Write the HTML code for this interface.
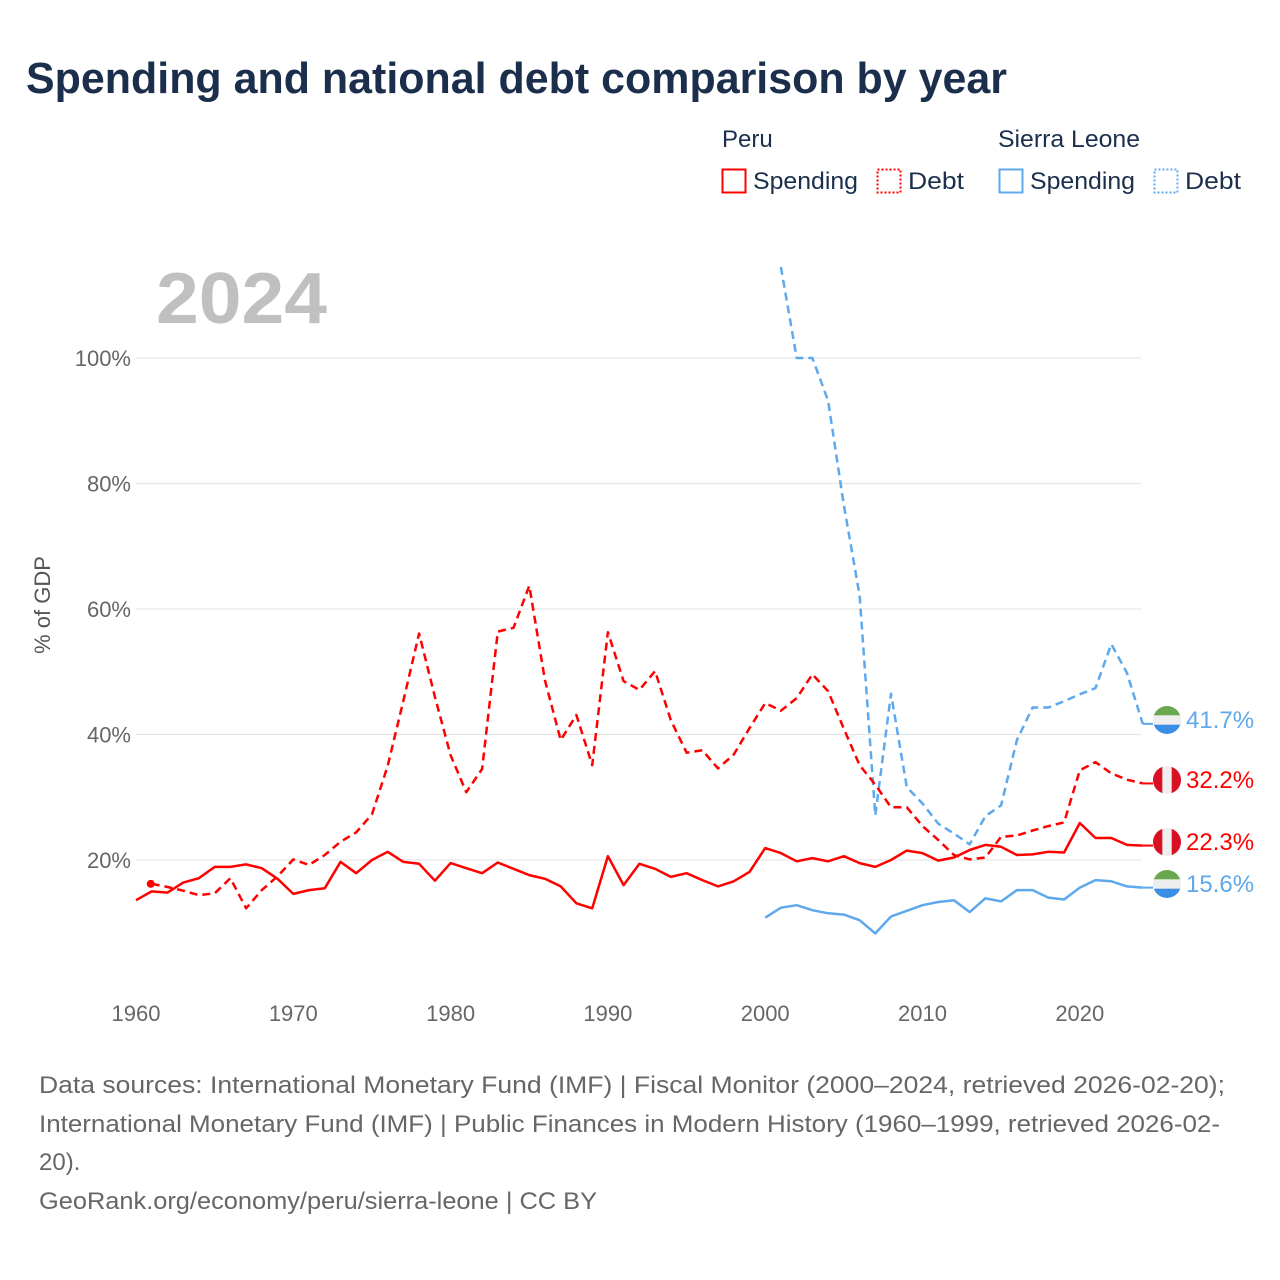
<!DOCTYPE html>
<html><head><meta charset="utf-8">
<style>
body{margin:0;background:#fff;}
svg{display:block;font-family:"Liberation Sans",sans-serif;}
</style></head>
<body>
<svg id="chart" width="1280" height="1280" viewBox="0 0 1280 1280">
<text x="26" y="93" font-size="44" font-weight="bold" fill="#1b2f4d" textLength="981" lengthAdjust="spacingAndGlyphs">Spending and national debt comparison by year</text>
<g>
<text x="722" y="147" font-size="24" fill="#1b2f4d">Peru</text>
<text x="998" y="147" font-size="24" fill="#1b2f4d" textLength="142" lengthAdjust="spacingAndGlyphs">Sierra Leone</text>
<g><rect x="722.5" y="169.5" width="23" height="23" fill="none" stroke="#f00" stroke-width="2"/><text x="753" y="189" font-size="24" fill="#1b2f4d" textLength="105" lengthAdjust="spacingAndGlyphs">Spending</text></g>
<g><rect x="877.5" y="169.5" width="23" height="23" fill="none" stroke="#f00" stroke-width="2" stroke-dasharray="2 2"/><text x="908" y="189" font-size="24" fill="#1b2f4d" textLength="56" lengthAdjust="spacingAndGlyphs">Debt</text></g>
<g><rect x="999.5" y="169.5" width="23" height="23" fill="none" stroke="#5ea8ec" stroke-width="2"/><text x="1030" y="189" font-size="24" fill="#1b2f4d" textLength="105" lengthAdjust="spacingAndGlyphs">Spending</text></g>
<g><rect x="1154.5" y="169.5" width="23" height="23" fill="none" stroke="#5ea8ec" stroke-width="2" stroke-dasharray="2 2"/><text x="1185" y="189" font-size="24" fill="#1b2f4d" textLength="56" lengthAdjust="spacingAndGlyphs">Debt</text></g>
</g>
<text x="156" y="323" font-size="72" font-weight="bold" fill="#c0c0c0" textLength="171" lengthAdjust="spacingAndGlyphs">2024</text>
<text transform="translate(50,605) rotate(-90)" text-anchor="middle" font-size="22" fill="#555">% of GDP</text>
<g id="grid"></g>
<g id="series"></g>
<g id="endlabels"></g>
<g font-size="24" fill="#666">
<text x="39" y="1093" textLength="1186" lengthAdjust="spacingAndGlyphs">Data sources: International Monetary Fund (IMF) | Fiscal Monitor (2000–2024, retrieved 2026-02-20);</text>
<text x="39" y="1132" textLength="1181" lengthAdjust="spacingAndGlyphs">International Monetary Fund (IMF) | Public Finances in Modern History (1960–1999, retrieved 2026-02-</text>
<text x="39" y="1170">20).</text>
<text x="39" y="1209" textLength="558" lengthAdjust="spacingAndGlyphs">GeoRank.org/economy/peru/sierra-leone | CC BY</text>
</g>
</svg>
<script>
const yTicks = [20, 40, 60, 80, 100];
const xTicks = [1960, 1970, 1980, 1990, 2000, 2010, 2020];
const peruSpendStart = 1960;
const peruSpending = [13.6,15.0,14.8,16.4,17.1,18.9,18.9,19.3,18.7,17.0,14.6,15.2,15.5,19.7,17.9,20.0,21.3,19.7,19.4,16.7,19.5,18.7,17.9,19.6,18.6,17.6,17.0,15.8,13.1,12.3,20.6,16.0,19.4,18.6,17.3,17.9,16.8,15.8,16.6,18.1,21.9,21.1,19.8,20.3,19.8,20.6,19.5,18.9,20.0,21.5,21.1,19.9,20.4,21.6,22.4,22.1,20.8,20.9,21.3,21.2,25.9,23.5,23.5,22.4,22.3];
const peruDebtStart = 1961;
const peruDebt = [16.2,15.7,15.1,14.4,14.7,17.1,12.3,15.2,17.4,20.1,19.2,20.8,22.9,24.4,27.3,35.0,45.4,56.1,46.0,36.7,30.8,34.5,56.4,57.0,63.7,48.6,39.1,43.1,35.1,56.3,48.5,47.1,50.1,42.3,37.1,37.5,34.6,36.8,41.0,45.0,43.8,45.8,49.6,46.9,40.9,35.1,32.0,28.4,28.4,25.4,23.2,20.8,20.1,20.4,23.7,23.9,24.7,25.4,26.0,34.3,35.6,33.8,32.8,32.2];
const slSpendStart = 2000;
const slSpending = [10.8,12.4,12.8,12.0,11.5,11.3,10.4,8.3,11.0,11.9,12.8,13.3,13.6,11.7,13.9,13.4,15.2,15.2,14.0,13.7,15.6,16.8,16.6,15.8,15.6];
const slDebtStart = 2001;
const slDebt = [114.5,100,100,93.2,76.5,62.2,27.1,46.5,31.6,29.0,25.8,24.2,22.5,27.0,28.7,39.1,44.3,44.3,45.3,46.4,47.4,54.4,49.8,41.7];

const NS = 'http://www.w3.org/2000/svg';
const X = yr => 136 + (yr - 1960) * 15.73;
const Y = v => 985.5 - v * 6.275;
function mk(tag, attrs, parent){const e=document.createElementNS(NS,tag);for(const k in attrs)e.setAttribute(k,attrs[k]);parent.appendChild(e);return e;}

const grid = document.getElementById('grid');
yTicks.forEach(t=>{
  const l = mk('line',{x1:136,x2:1141,y1:Y(t),y2:Y(t),stroke:'#e6e6e6','stroke-width':1.2},grid);
  
  
  const tx = mk('text',{x:131,y:Y(t)+8,'text-anchor':'end','font-size':22,fill:'#666'},grid);
  tx.textContent = t+'%';
  
  
});
xTicks.forEach(t=>{
  const tx = mk('text',{x:X(t),y:1021,'text-anchor':'middle','font-size':22,fill:'#666'},grid);
  tx.textContent = t;
  
  
});

const ser = document.getElementById('series');
function line(vals, start, color, dashed, name){
  const d = vals.map((v,i)=>(i?'L':'M')+X(start+i).toFixed(1)+','+Y(v).toFixed(1)).join('');
  const p = mk('path',{d:d,fill:'none',stroke:color,'stroke-width':2.5,'stroke-linejoin':'round'},ser);
  if(dashed) p.setAttribute('stroke-dasharray','8 5');
  
  
}
line(slSpending, slSpendStart, '#5ea8ec', false, 'sierra-leone-spending-line');
line(slDebt, slDebtStart, '#5ea8ec', true, 'sierra-leone-debt-line');
line(peruSpending, peruSpendStart, '#f00', false, 'peru-spending-line');
line(peruDebt, peruDebtStart, '#f00', true, 'peru-debt-line');
const dot = mk('circle',{cx:X(peruDebtStart)-1,cy:Y(peruDebt[0]),r:4,fill:'#f00'},ser);



const el = document.getElementById('endlabels');
function flag(cx, cy, kind, name){
  const g = mk('g',{},el);
  
  
  const cid = 'c'+name;
  const cp = mk('clipPath',{id:cid},g);
  mk('circle',{cx:cx,cy:cy,r:14},cp);
  const gg = mk('g',{'clip-path':'url(#'+cid+')'},g);
  if(kind==='pe'){
    mk('rect',{x:cx-14,y:cy-14,width:28,height:28,fill:'#eee'},gg);
    mk('rect',{x:cx-14,y:cy-14,width:9.3,height:28,fill:'#d91023'},gg);
    mk('rect',{x:cx+4.7,y:cy-14,width:9.3,height:28,fill:'#d91023'},gg);
  } else {
    mk('rect',{x:cx-14,y:cy-14,width:28,height:28,fill:'#eee'},gg);
    mk('rect',{x:cx-14,y:cy-14,width:28,height:9.3,fill:'#6aa84f'},gg);
    mk('rect',{x:cx-14,y:cy+4.7,width:28,height:9.3,fill:'#3a8ee6'},gg);
  }
}
function endLabel(val, ly, color, kind, name){
  mk('line',{x1:X(2024),x2:1153,y1:Y(val),y2:Y(val),stroke:color,'stroke-width':2},el);
  flag(1167, ly, kind, name+'-flag');
  const t = mk('text',{x:1186,y:ly+8,'font-size':24,fill:color},el);
  t.textContent = val.toFixed(1)+'%';
  
  
}
endLabel(slDebt[slDebt.length-1], 720, '#5ea8ec', 'sl', 'sierra-leone-debt-end');
endLabel(peruDebt[peruDebt.length-1], 780, '#f00', 'pe', 'peru-debt-end');
endLabel(peruSpending[peruSpending.length-1], 842, '#f00', 'pe', 'peru-spending-end');
endLabel(slSpending[slSpending.length-1], 884, '#5ea8ec', 'sl', 'sierra-leone-spending-end');
</script>
</body></html>
